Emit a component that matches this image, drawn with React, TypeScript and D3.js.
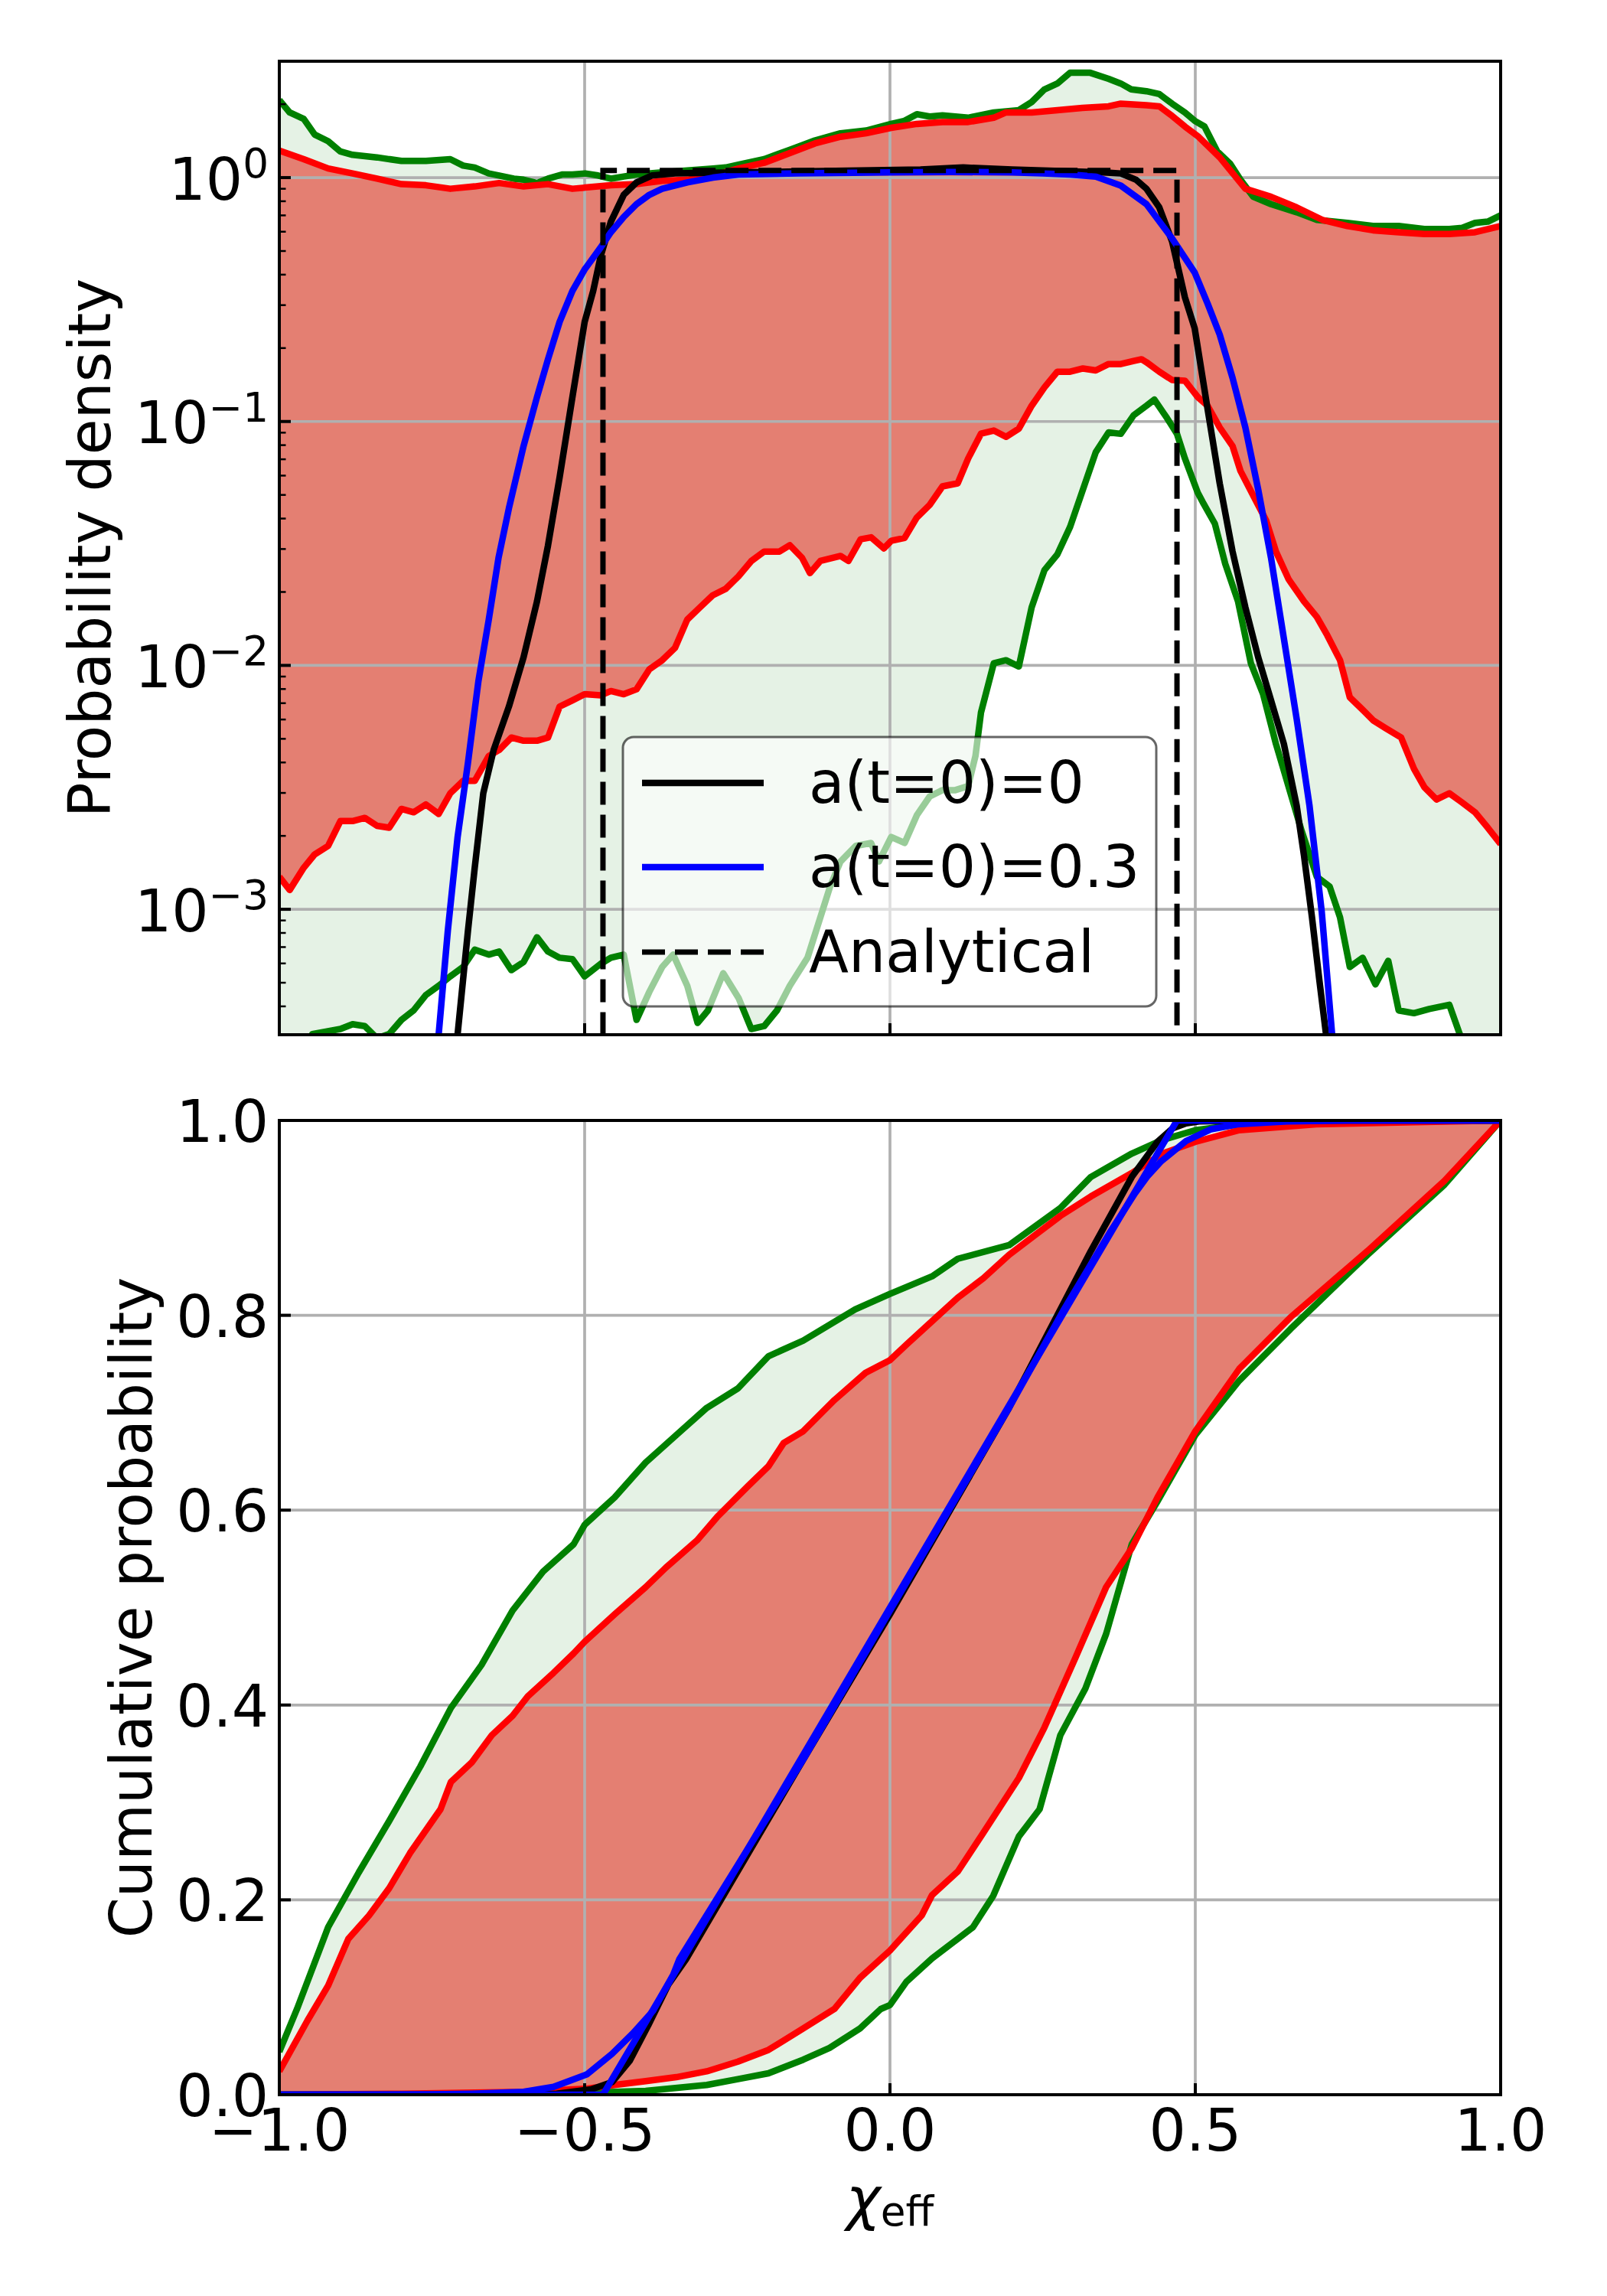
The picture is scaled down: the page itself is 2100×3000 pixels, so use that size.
import React from 'react';
import * as d3 from 'd3';

type P = [number, number];

// ---------- axes / labels ----------
const xTicks = [-1.0, -0.5, 0.0, 0.5, 1.0];
const xTickLabels = ['\u22121.0', '\u22120.5', '0.0', '0.5', '1.0'];
const topYTicks = [1e-3, 1e-2, 1e-1, 1e0];
const topYTickExp = ['\u22123', '\u22122', '\u22121', '0'];
const botYTicks = [0, 0.2, 0.4, 0.6, 0.8, 1.0];
const botYTickLabels = ['0.0', '0.2', '0.4', '0.6', '0.8', '1.0'];
const legendLabels = ['a(t=0)=0', 'a(t=0)=0.3', 'Analytical'];

// ---------- top panel: probability density ----------
const topGreenUpper: P[] = [
  [-1.0, 2.08], [-0.983, 1.85], [-0.96, 1.74], [-0.942, 1.5], [-0.92, 1.41], [-0.9, 1.28], [-0.88, 1.24],
  [-0.84, 1.21], [-0.8, 1.17], [-0.76, 1.17], [-0.72, 1.19], [-0.699, 1.12], [-0.68, 1.1], [-0.657, 1.04],
  [-0.64, 1.02], [-0.616, 0.99], [-0.6, 0.98], [-0.578, 0.95], [-0.56, 0.99], [-0.536, 1.03], [-0.52, 1.03],
  [-0.499, 1.04], [-0.478, 1.02], [-0.457, 0.99], [-0.436, 1.01], [-0.415, 1.03], [-0.373, 1.05], [-0.332, 1.07],
  [-0.29, 1.09], [-0.269, 1.1], [-0.248, 1.13], [-0.206, 1.19], [-0.164, 1.3], [-0.143, 1.36], [-0.123, 1.42],
  [-0.081, 1.52], [-0.039, 1.56], [0.002, 1.66], [0.024, 1.71], [0.044, 1.82], [0.065, 1.78], [0.086, 1.8],
  [0.128, 1.76], [0.17, 1.85], [0.211, 1.89], [0.232, 2.04], [0.253, 2.3], [0.274, 2.43], [0.295, 2.69],
  [0.328, 2.69], [0.358, 2.54], [0.378, 2.43], [0.395, 2.3], [0.42, 2.26], [0.441, 2.2], [0.462, 2.01],
  [0.483, 1.85], [0.499, 1.71], [0.515, 1.62], [0.536, 1.28], [0.557, 1.14], [0.574, 0.98], [0.595, 0.834],
  [0.624, 0.778], [0.666, 0.721], [0.699, 0.671], [0.749, 0.652], [0.791, 0.633], [0.833, 0.633], [0.875, 0.615],
  [0.916, 0.615], [0.937, 0.622], [0.958, 0.652], [0.979, 0.66], [1.0, 0.7],
];

const topRedUpper: P[] = [
  [-1.0, 1.29], [-0.96, 1.19], [-0.92, 1.09], [-0.88, 1.04], [-0.84, 0.99], [-0.8, 0.94], [-0.76, 0.93],
  [-0.72, 0.9], [-0.68, 0.92], [-0.64, 0.95], [-0.6, 0.92], [-0.56, 0.94], [-0.52, 0.9], [-0.499, 0.91],
  [-0.457, 0.93], [-0.415, 0.94], [-0.373, 0.97], [-0.332, 0.98], [-0.29, 1.02], [-0.248, 1.09], [-0.206, 1.15],
  [-0.164, 1.26], [-0.123, 1.38], [-0.081, 1.47], [-0.039, 1.52], [0.002, 1.6], [0.044, 1.66], [0.086, 1.69],
  [0.128, 1.69], [0.17, 1.76], [0.19, 1.85], [0.232, 1.85], [0.274, 1.89], [0.315, 1.93], [0.358, 1.96],
  [0.378, 2.01], [0.42, 1.98], [0.441, 1.96], [0.462, 1.79], [0.483, 1.62], [0.504, 1.48], [0.54, 1.21],
  [0.582, 0.9], [0.624, 0.834], [0.666, 0.755], [0.708, 0.671], [0.749, 0.633], [0.791, 0.608], [0.833, 0.597],
  [0.875, 0.587], [0.916, 0.587], [0.958, 0.597], [1.0, 0.633],
];

const topRedLower: P[] = [
  [-1.0, 1.36e-3], [-0.983, 1.2e-3], [-0.96, 1.48e-3], [-0.942, 1.68e-3], [-0.92, 1.82e-3], [-0.9, 2.3e-3],
  [-0.88, 2.3e-3], [-0.86, 2.37e-3], [-0.84, 2.2e-3], [-0.82, 2.16e-3], [-0.8, 2.58e-3], [-0.78, 2.5e-3],
  [-0.76, 2.69e-3], [-0.739, 2.46e-3], [-0.72, 2.99e-3], [-0.699, 3.36e-3], [-0.68, 3.36e-3], [-0.657, 4.25e-3],
  [-0.64, 4.5e-3], [-0.62, 5.06e-3], [-0.6, 4.91e-3], [-0.578, 4.91e-3], [-0.56, 5.06e-3], [-0.541, 6.78e-3],
  [-0.52, 7.19e-3], [-0.5, 7.62e-3], [-0.474, 7.54e-3], [-0.457, 7.85e-3], [-0.436, 7.62e-3], [-0.415, 7.98e-3],
  [-0.394, 9.64e-3], [-0.373, 1.05e-2], [-0.352, 1.18e-2], [-0.332, 1.54e-2], [-0.311, 1.73e-2], [-0.29, 1.94e-2],
  [-0.269, 2.06e-2], [-0.248, 2.32e-2], [-0.227, 2.68e-2], [-0.206, 2.93e-2], [-0.181, 2.93e-2], [-0.164, 3.11e-2],
  [-0.144, 2.76e-2], [-0.131, 2.39e-2], [-0.114, 2.68e-2], [-0.081, 2.81e-2], [-0.068, 2.68e-2], [-0.048, 3.29e-2],
  [-0.031, 3.35e-2], [-0.01, 3.02e-2], [0.002, 3.24e-2], [0.024, 3.33e-2], [0.044, 4.04e-2], [0.065, 4.55e-2],
  [0.086, 5.42e-2], [0.111, 5.58e-2], [0.128, 7.05e-2], [0.149, 8.91e-2], [0.17, 9.18e-2], [0.19, 8.65e-2],
  [0.211, 9.34e-2], [0.232, 0.116], [0.253, 0.138], [0.274, 0.16], [0.295, 0.16], [0.316, 0.165], [0.337, 0.162],
  [0.358, 0.172], [0.378, 0.172], [0.399, 0.177], [0.412, 0.18], [0.42, 0.175], [0.441, 0.16], [0.462, 0.148],
  [0.483, 0.147], [0.504, 0.126], [0.52, 0.116], [0.54, 0.0945], [0.561, 0.0793], [0.574, 0.0627], [0.595, 0.0496],
  [0.616, 0.0393], [0.632, 0.0293], [0.653, 0.0225], [0.678, 0.0183], [0.699, 0.0158], [0.716, 0.0133],
  [0.737, 0.0105], [0.753, 7.4e-3], [0.774, 6.58e-3], [0.791, 5.96e-3], [0.812, 5.52e-3], [0.837, 5.06e-3],
  [0.858, 3.77e-3], [0.875, 3.17e-3], [0.895, 2.82e-3], [0.916, 2.99e-3], [0.937, 2.74e-3], [0.958, 2.5e-3],
  [0.979, 2.16e-3], [1.0, 1.85e-3],
];

const topGreenLower: P[] = [
  [-1.0, 2.0e-4], [-0.96, 2.2e-4], [-0.946, 3.08e-4], [-0.9, 3.23e-4], [-0.88, 3.38e-4], [-0.86, 3.32e-4],
  [-0.84, 2.96e-4], [-0.82, 3.08e-4], [-0.8, 3.52e-4], [-0.78, 3.85e-4], [-0.76, 4.45e-4], [-0.739, 4.86e-4],
  [-0.72, 5.31e-4], [-0.699, 5.8e-4], [-0.68, 6.83e-4], [-0.657, 6.52e-4], [-0.64, 6.71e-4], [-0.62, 5.63e-4],
  [-0.6, 6.08e-4], [-0.578, 7.68e-4], [-0.56, 6.71e-4], [-0.541, 6.33e-4], [-0.52, 6.25e-4], [-0.5, 5.31e-4],
  [-0.474, 5.97e-4], [-0.457, 6.33e-4], [-0.436, 6.52e-4], [-0.415, 3.52e-4], [-0.394, 4.59e-4], [-0.373, 5.8e-4],
  [-0.355, 6.52e-4], [-0.332, 4.86e-4], [-0.315, 3.42e-4], [-0.298, 3.85e-4], [-0.273, 5.47e-4], [-0.248, 4.33e-4],
  [-0.227, 3.23e-4], [-0.206, 3.32e-4], [-0.185, 3.85e-4], [-0.164, 4.86e-4], [-0.135, 6.33e-4], [-0.114, 9.27e-4],
  [-0.098, 1.24e-3], [-0.081, 1.57e-3], [-0.056, 1.82e-3], [-0.031, 1.87e-3], [-0.018, 1.57e-3], [0.002, 1.98e-3],
  [0.024, 1.87e-3], [0.044, 2.43e-3], [0.065, 2.9e-3], [0.086, 3.08e-3], [0.107, 3.08e-3], [0.128, 3.2e-3],
  [0.14, 4.25e-3], [0.149, 6.4e-3], [0.17, 0.0102], [0.19, 0.0105], [0.211, 9.9e-3], [0.232, 0.0173],
  [0.253, 0.0246], [0.274, 0.0285], [0.295, 0.037], [0.316, 0.0526], [0.337, 0.0748], [0.358, 0.0902],
  [0.378, 0.089], [0.399, 0.106], [0.42, 0.116], [0.433, 0.123], [0.454, 0.103], [0.47, 0.089], [0.483, 0.0705],
  [0.504, 0.0511], [0.512, 0.0468], [0.532, 0.0381], [0.549, 0.0261], [0.57, 0.0183], [0.591, 0.0102],
  [0.611, 7.62e-3], [0.632, 4.77e-3], [0.653, 3.17e-3], [0.674, 2.1e-3], [0.699, 1.36e-3], [0.72, 1.24e-3],
  [0.737, 9.27e-4], [0.753, 5.8e-4], [0.774, 6.33e-4], [0.795, 4.92e-4], [0.816, 6.15e-4], [0.833, 3.85e-4],
  [0.858, 3.75e-4], [0.883, 3.9e-4], [0.916, 4.06e-4], [0.933, 3.08e-4], [0.95, 2.4e-4], [1.0, 1.5e-4],
];

const topBlack: P[] = [
  [-0.725, 1.5e-4], [-0.716, 1.9e-4], [-0.708, 3.08e-4], [-0.691, 8.2e-4], [-0.68, 1.48e-3], [-0.666, 2.99e-3],
  [-0.649, 4.5e-3], [-0.624, 6.78e-3], [-0.6, 0.0108], [-0.578, 0.0183], [-0.56, 0.031], [-0.541, 0.059],
  [-0.52, 0.126], [-0.5, 0.256], [-0.486, 0.343], [-0.474, 0.473], [-0.457, 0.66], [-0.436, 0.85],
  [-0.415, 0.955], [-0.39, 1.02], [-0.352, 1.04], [-0.25, 1.05], [-0.15, 1.06], [-0.05, 1.07], [0.05, 1.08],
  [0.12, 1.1], [0.2, 1.08], [0.3, 1.06], [0.35, 1.05], [0.378, 1.04], [0.403, 0.98], [0.42, 0.9],
  [0.441, 0.755], [0.462, 0.547], [0.483, 0.323], [0.499, 0.241], [0.52, 0.113], [0.54, 0.0557],
  [0.561, 0.0293], [0.582, 0.0173], [0.603, 0.0108], [0.624, 7.19e-3], [0.645, 4.77e-3], [0.666, 2.66e-3],
  [0.678, 1.66e-3], [0.691, 9.3e-4], [0.703, 5.16e-4], [0.714, 3.08e-4], [0.725, 1.5e-4],
];

const topBlue: P[] = [
  [-0.75, 1.2e-4], [-0.739, 3.08e-4], [-0.724, 8.2e-4], [-0.708, 1.98e-3], [-0.691, 4.0e-3], [-0.674, 8.6e-3],
  [-0.657, 0.0154], [-0.641, 0.0276], [-0.624, 0.0441], [-0.6, 0.0793], [-0.578, 0.126], [-0.56, 0.18],
  [-0.541, 0.256], [-0.52, 0.343], [-0.5, 0.42], [-0.474, 0.516], [-0.457, 0.597], [-0.436, 0.69],
  [-0.415, 0.778], [-0.394, 0.85], [-0.373, 0.9], [-0.332, 0.955], [-0.29, 1.0], [-0.248, 1.03], [-0.15, 1.04],
  [0.0, 1.05], [0.1, 1.055], [0.2, 1.05], [0.25, 1.04], [0.295, 1.03], [0.337, 1.01], [0.378, 0.927],
  [0.42, 0.778], [0.462, 0.563], [0.499, 0.408], [0.52, 0.305], [0.54, 0.227], [0.561, 0.151], [0.582, 0.0945],
  [0.603, 0.0526], [0.624, 0.0276], [0.645, 0.0129], [0.666, 6.03e-3], [0.687, 2.66e-3], [0.707, 9.8e-4],
  [0.724, 3.08e-4], [0.74, 1.2e-4],
];

const topAnalytical: P[] = [[-0.47, 1e-5], [-0.47, 1.07], [0.47, 1.07], [0.47, 1e-5]];

// ---------- bottom panel: cumulative probability ----------
const botGreenUpper: P[] = [
  [-1.0, 0.044], [-0.971, 0.088], [-0.92, 0.172], [-0.87, 0.228], [-0.82, 0.281], [-0.769, 0.337],
  [-0.719, 0.397], [-0.669, 0.441], [-0.618, 0.497], [-0.568, 0.537], [-0.518, 0.565], [-0.5, 0.585],
  [-0.451, 0.613], [-0.4, 0.649], [-0.35, 0.677], [-0.3, 0.705], [-0.249, 0.725], [-0.199, 0.758],
  [-0.142, 0.774], [-0.057, 0.806], [0.0, 0.822], [0.069, 0.84], [0.111, 0.858], [0.195, 0.872], [0.237, 0.891],
  [0.279, 0.91], [0.329, 0.942], [0.396, 0.966], [0.446, 0.98], [0.5, 0.99], [0.572, 0.996], [0.698, 0.998],
  [1.0, 1.0],
];

const botRedUpper: P[] = [
  [-1.0, 0.024], [-0.954, 0.076], [-0.92, 0.112], [-0.887, 0.16], [-0.853, 0.184], [-0.82, 0.212],
  [-0.786, 0.248], [-0.736, 0.293], [-0.719, 0.321], [-0.685, 0.341], [-0.652, 0.369], [-0.618, 0.389],
  [-0.593, 0.409], [-0.551, 0.433], [-0.518, 0.453], [-0.5, 0.465], [-0.451, 0.493], [-0.4, 0.521],
  [-0.367, 0.541], [-0.316, 0.569], [-0.283, 0.593], [-0.232, 0.625], [-0.199, 0.645], [-0.174, 0.669],
  [-0.142, 0.681], [-0.091, 0.713], [-0.04, 0.741], [0.0, 0.754], [0.027, 0.77], [0.069, 0.794], [0.111, 0.818],
  [0.153, 0.838], [0.195, 0.862], [0.237, 0.882], [0.279, 0.902], [0.329, 0.922], [0.396, 0.946], [0.446, 0.966],
  [0.5, 0.978], [0.572, 0.99], [0.698, 0.996], [1.0, 1.0],
];

const botRedLower: P[] = [
  [-1.0, 0.0], [-0.8, 0.001], [-0.7, 0.002], [-0.6, 0.003], [-0.5, 0.006], [-0.451, 0.01], [-0.4, 0.014],
  [-0.35, 0.018], [-0.3, 0.024], [-0.249, 0.034], [-0.199, 0.046], [-0.142, 0.068], [-0.091, 0.088],
  [-0.049, 0.12], [0.0, 0.148], [0.052, 0.184], [0.069, 0.205], [0.111, 0.229], [0.153, 0.269], [0.211, 0.325],
  [0.253, 0.377], [0.304, 0.449], [0.354, 0.521], [0.396, 0.561], [0.438, 0.613], [0.5, 0.681], [0.572, 0.745],
  [0.656, 0.798], [0.782, 0.866], [0.908, 0.938], [1.0, 1.0],
];

const botGreenLower: P[] = [
  [-1.0, 0.0], [-0.7, 0.0], [-0.55, 0.001], [-0.5, 0.002], [-0.4, 0.004], [-0.3, 0.01], [-0.249, 0.016],
  [-0.199, 0.022], [-0.142, 0.036], [-0.099, 0.048], [-0.049, 0.068], [-0.015, 0.088], [0.0, 0.092],
  [0.027, 0.116], [0.069, 0.14], [0.111, 0.16], [0.136, 0.172], [0.169, 0.204], [0.211, 0.265], [0.245, 0.293],
  [0.279, 0.369], [0.32, 0.417], [0.354, 0.473], [0.396, 0.565], [0.438, 0.609], [0.5, 0.677], [0.572, 0.733],
  [0.656, 0.786], [0.782, 0.862], [0.908, 0.934], [1.0, 1.0],
];

const botBlack: P[] = [
  [-1.0, 0.0], [-0.6, 0.0], [-0.546, 0.001], [-0.489, 0.0055], [-0.455, 0.013], [-0.426, 0.035],
  [-0.396, 0.071], [-0.363, 0.113], [-0.334, 0.139], [-0.141, 0.345], [0.0, 0.493], [0.195, 0.705],
  [0.329, 0.866], [0.396, 0.942], [0.438, 0.978], [0.463, 0.992], [0.485, 0.997], [0.506, 0.999], [0.6, 1.0],
  [1.0, 1.0],
];

const botBlue: P[] = [
  [-1.0, 0.0], [-0.75, 0.0003], [-0.685, 0.001], [-0.6, 0.003], [-0.551, 0.008], [-0.496, 0.021],
  [-0.455, 0.042], [-0.421, 0.063], [-0.388, 0.086], [-0.355, 0.123], [-0.345, 0.139], [-0.141, 0.345],
  [0.0, 0.497], [0.195, 0.705], [0.284, 0.805], [0.36, 0.885], [0.401, 0.925], [0.422, 0.943], [0.444, 0.958],
  [0.485, 0.979], [0.526, 0.991], [0.569, 0.996], [0.65, 0.999], [0.75, 1.0], [1.0, 1.0],
];

const botAnalytical: P[] = [[-1.0, 0.0], [-0.47, 0.0], [0.47, 1.0], [1.0, 1.0]];

// ---------- styling ----------
const FONT = 'DejaVu Sans';
const FS = 76;
const GREEN = '#008000';
const RED = '#ff0000';
const GREEN_FILL = '#e5f2e5';
const RED_FILL = '#e47f72';
const GRID = '#b0b0b0';
const LW = 8.5;

const AX_L = 365;
const AX_R = 1961;
const TOP_T = 80;
const TOP_B = 1352;
const BOT_T = 1464;
const BOT_B = 2737;

export default function App() {
  const x = d3.scaleLinear().domain([-1, 1]).range([AX_L, AX_R]);
  const yTop = d3.scaleLog().domain([3.06e-4, 3.0]).range([TOP_B, TOP_T]);
  const yBot = d3.scaleLinear().domain([0, 1]).range([BOT_B, BOT_T]);

  const lineTop = d3.line<P>().x((d) => x(d[0])).y((d) => yTop(d[1]));
  const lineBot = d3.line<P>().x((d) => x(d[0])).y((d) => yBot(d[1]));
  const band = (gen: d3.Line<P>, up: P[], lo: P[]) => (gen([...up, ...lo.slice().reverse()]) || '') + 'Z';

  const minorTop: number[] = [];
  for (let k = -4; k <= 0; k++) {
    for (let m = 2; m <= 9; m++) {
      const v = m * Math.pow(10, k);
      if (v > 3.06e-4 && v < 3.0) minorTop.push(v);
    }
  }

  const solid = (d: string | null, color: string, w = LW) => (
    <path d={d || ''} fill="none" stroke={color} strokeWidth={w} strokeLinejoin="round" strokeLinecap="butt" />
  );

  const legendRows = [1023, 1133, 1244];

  return (
    <svg
      width={2100}
      height={3000}
      viewBox="0 0 2100 3000"
      style={{ position: 'absolute', left: 0, top: 0, background: '#fff' }}
      fontFamily={FONT}
    >
      <defs>
        <clipPath id="clipTop">
          <rect x={AX_L} y={TOP_T} width={AX_R - AX_L} height={TOP_B - TOP_T} />
        </clipPath>
        <clipPath id="clipBot">
          <rect x={AX_L} y={BOT_T} width={AX_R - AX_L} height={BOT_B - BOT_T} />
        </clipPath>
      </defs>
      <rect x={0} y={0} width={2100} height={3000} fill="#fff" />

      {/* ===== TOP PANEL ===== */}
      <g clipPath="url(#clipTop)">
        <path d={band(lineTop, topGreenUpper, topGreenLower)} fill={GREEN_FILL} />
        <path d={band(lineTop, topRedUpper, topRedLower)} fill={RED_FILL} />
        {xTicks.map((t) => (
          <line key={'gx' + t} x1={x(t)} x2={x(t)} y1={TOP_T} y2={TOP_B} stroke={GRID} strokeWidth={3.7} />
        ))}
        {topYTicks.map((t) => (
          <line key={'gy' + t} x1={AX_L} x2={AX_R} y1={yTop(t)} y2={yTop(t)} stroke={GRID} strokeWidth={3.7} />
        ))}
        {solid(lineTop(topGreenUpper), GREEN)}
        {solid(lineTop(topGreenLower), GREEN)}
        {solid(lineTop(topRedUpper), RED)}
        {solid(lineTop(topRedLower), RED)}
        {solid(lineTop(topBlack), '#000')}
        {solid(lineTop(topBlue), '#0000ff')}
        <path d={lineTop(topAnalytical) || ''} fill="none" stroke="#000" strokeWidth={7} strokeDasharray="30 13" />
      </g>
      <rect x={AX_L} y={TOP_T} width={AX_R - AX_L} height={TOP_B - TOP_T} fill="none" stroke="#000" strokeWidth={4} />
      {topYTicks.map((t) => (
        <line key={'ty' + t} x1={AX_L} x2={AX_L + 15} y1={yTop(t)} y2={yTop(t)} stroke="#000" strokeWidth={4} />
      ))}
      {minorTop.map((t) => (
        <line key={'tm' + t} x1={AX_L} x2={AX_L + 8.5} y1={yTop(t)} y2={yTop(t)} stroke="#000" strokeWidth={2.5} />
      ))}
      {xTicks.map((t) => (
        <line key={'tx' + t} x1={x(t)} x2={x(t)} y1={TOP_B} y2={TOP_B - 15} stroke="#000" strokeWidth={4} />
      ))}
      {topYTicks.map((t, i) => (
        <text key={'tyl' + t} x={351} y={yTop(t) + 28.5} textAnchor="end" fontSize={FS} fill="#000">
          <tspan>10</tspan>
          <tspan fontSize={FS * 0.7} dy={-28.5}>{topYTickExp[i]}</tspan>
        </text>
      ))}
      <text
        transform={`translate(144, ${(TOP_T + TOP_B) / 2}) rotate(-90)`}
        textAnchor="middle"
        fontSize={FS}
        fill="#000"
      >
        Probability density
      </text>

      {/* legend */}
      <g>
        <rect x={814} y={963} width={697} height={352} rx={14} ry={14} fill="#fff" fillOpacity={0.6}
          stroke="#000" strokeOpacity={0.6} strokeWidth={3} />
        <line x1={839} x2={998} y1={legendRows[0]} y2={legendRows[0]} stroke="#000" strokeWidth={LW} />
        <line x1={839} x2={998} y1={legendRows[1]} y2={legendRows[1]} stroke="#0000ff" strokeWidth={LW} />
        <line x1={839} x2={998} y1={legendRows[2]} y2={legendRows[2]} stroke="#000" strokeWidth={7} strokeDasharray="30 13" />
        {legendLabels.map((s, i) => (
          <text key={s} x={1057} y={legendRows[i] + 26} fontSize={FS} fill="#000">{s}</text>
        ))}
      </g>

      {/* ===== BOTTOM PANEL ===== */}
      <g clipPath="url(#clipBot)">
        <path d={band(lineBot, botGreenUpper, botGreenLower)} fill={GREEN_FILL} />
        <path d={band(lineBot, botRedUpper, botRedLower)} fill={RED_FILL} />
        {xTicks.map((t) => (
          <line key={'bgx' + t} x1={x(t)} x2={x(t)} y1={BOT_T} y2={BOT_B} stroke={GRID} strokeWidth={3.7} />
        ))}
        {botYTicks.map((t) => (
          <line key={'bgy' + t} x1={AX_L} x2={AX_R} y1={yBot(t)} y2={yBot(t)} stroke={GRID} strokeWidth={3.7} />
        ))}
        {solid(lineBot(botGreenUpper), GREEN)}
        {solid(lineBot(botGreenLower), GREEN)}
        {solid(lineBot(botRedUpper), RED)}
        {solid(lineBot(botRedLower), RED)}
        {solid(lineBot(botBlack), '#000')}
        {solid(lineBot(botBlue), '#0000ff')}
        {solid(lineBot(botAnalytical), '#0000ff')}
      </g>
      <rect x={AX_L} y={BOT_T} width={AX_R - AX_L} height={BOT_B - BOT_T} fill="none" stroke="#000" strokeWidth={4} />
      {botYTicks.map((t) => (
        <line key={'by' + t} x1={AX_L} x2={AX_L + 15} y1={yBot(t)} y2={yBot(t)} stroke="#000" strokeWidth={4} />
      ))}
      {xTicks.map((t) => (
        <line key={'bx' + t} x1={x(t)} x2={x(t)} y1={BOT_B} y2={BOT_B - 15} stroke="#000" strokeWidth={4} />
      ))}
      {botYTicks.map((t, i) => (
        <text key={'byl' + t} x={351} y={yBot(t) + 28} textAnchor="end" fontSize={FS} fill="#000">
          {botYTickLabels[i]}
        </text>
      ))}
      {xTicks.map((t, i) => (
        <text key={'bxl' + t} x={x(t)} y={2810} textAnchor="middle" fontSize={FS} fill="#000">
          {xTickLabels[i]}
        </text>
      ))}
      <text
        transform={`translate(198, ${(BOT_T + BOT_B) / 2}) rotate(-90)`}
        textAnchor="middle"
        fontSize={FS}
        fill="#000"
      >
        Cumulative probability
      </text>
      <text x={x(0)} y={2899} textAnchor="middle" fontSize={FS} fill="#000">
        <tspan fontStyle="italic">χ</tspan>
        <tspan fontSize={FS * 0.7} dy={9}>eff</tspan>
      </text>
    </svg>
  );
}
